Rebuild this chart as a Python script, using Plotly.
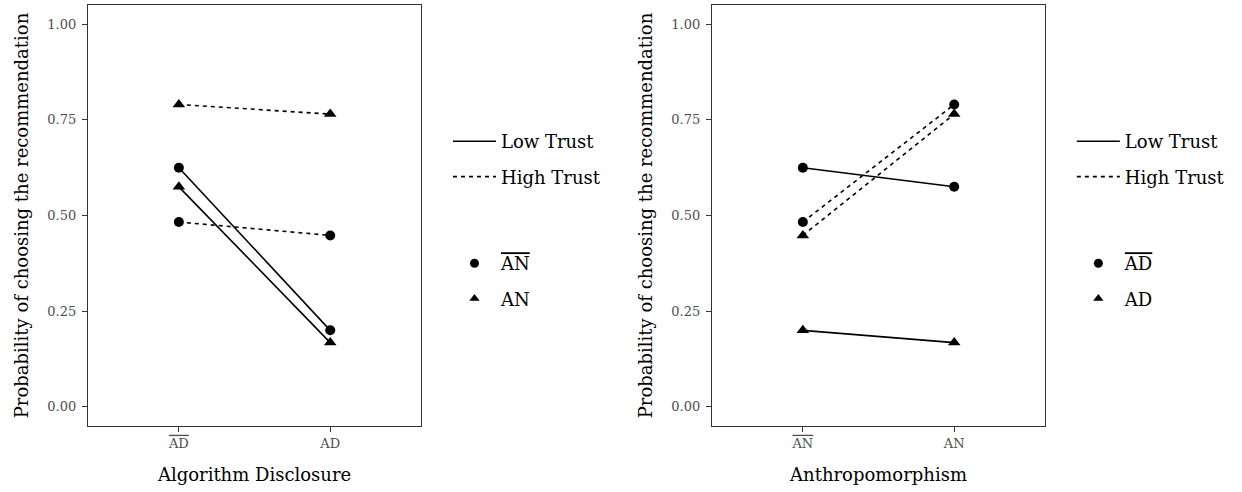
import plotly.graph_objects as go

# ---- data ----
trust_levels = ["Low Trust", "High Trust"]
ad_categories = ["ADbar", "AD"]          # Algorithm Disclosure levels
an_categories = ["ANbar", "AN"]          # Anthropomorphism levels
ad_ticktext = ['<span style="text-decoration:overline">AD</span>', "AD"]
an_ticktext = ['<span style="text-decoration:overline">AN</span>', "AN"]

# probabilities indexed over Algorithm Disclosure [ADbar, AD]
low_trust_anbar = [0.625, 0.200]
low_trust_an = [0.575, 0.168]
high_trust_anbar = [0.483, 0.448]
high_trust_an = [0.790, 0.765]

FONT = "DejaVu Serif"
dash_map = {"Low Trust": "solid", "High Trust": "4px,4px"}

series = {
    ("Low Trust", "ANbar"): low_trust_anbar,
    ("Low Trust", "AN"): low_trust_an,
    ("High Trust", "ANbar"): high_trust_anbar,
    ("High Trust", "AN"): high_trust_an,
}
symbol_map = {0: "circle", 1: "triangle-up"}

fig = go.Figure()

# Left panel: x = Algorithm Disclosure, marker = Anthropomorphism
for trust in trust_levels:
    for j, an in enumerate(an_categories):
        vals = series[(trust, an)]
        fig.add_trace(go.Scatter(
            x=ad_categories, y=vals, mode="lines+markers",
            line=dict(color="black", width=1.6, dash=dash_map[trust]),
            marker=dict(symbol=symbol_map[j], size=10 if j == 0 else 11, color="black"),
            showlegend=False, xaxis="x", yaxis="y", cliponaxis=False,
        ))

# Right panel: x = Anthropomorphism, marker = Algorithm Disclosure
for trust in trust_levels:
    for i, ad in enumerate(ad_categories):
        vals = [series[(trust, an)][i] for an in an_categories]
        fig.add_trace(go.Scatter(
            x=an_categories, y=vals, mode="lines+markers",
            line=dict(color="black", width=1.6, dash=dash_map[trust]),
            marker=dict(symbol=symbol_map[i], size=10 if i == 0 else 11, color="black"),
            showlegend=False, xaxis="x2", yaxis="y2", cliponaxis=False,
        ))

# Legend entries
def legend_entries(lg_lines, lg_marks, mark_labels, xa, ya):
    for k, trust in enumerate(trust_levels):
        fig.add_trace(go.Scatter(
            x=[None], y=[None], mode="lines", name=trust,
            line=dict(color="black", width=1.6, dash=dash_map[trust]),
            legend=lg_lines, legendgroup=lg_lines + str(k), xaxis=xa, yaxis=ya,
        ))
    for k, lab in enumerate(mark_labels):
        fig.add_trace(go.Scatter(
            x=[None], y=[None], mode="markers", name=lab,
            marker=dict(symbol=symbol_map[k], size=9, color="black"),
            legend=lg_marks, legendgroup=lg_marks + str(k), xaxis=xa, yaxis=ya,
        ))

legend_entries("legend", "legend2", an_ticktext, "x", "y")
legend_entries("legend3", "legend4", ad_ticktext, "x2", "y2")

axis_line = dict(showline=True, mirror=True, linecolor="#333333", linewidth=1.3,
                 ticks="outside", ticklen=5, tickcolor="#333333", tickwidth=1,
                 showgrid=False, zeroline=False, automargin=False,
                 tickfont=dict(family=FONT, size=13, color="#4d4d4d"))

yax = dict(range=[-0.05, 1.05], tickvals=[0, 0.25, 0.5, 0.75, 1.0],
           ticktext=["0.00", "0.25", "0.50", "0.75", "1.00"],
           ticklabelstandoff=3,
           title=dict(text="Probability of choosing the recommendation",
                      font=dict(family=FONT, size=18, color="black"), standoff=14),
           domain=[0.1341, 0.9898], **axis_line)

leg_common = dict(font=dict(family=FONT, size=18, color="black"), bgcolor="rgba(0,0,0,0)",
                  traceorder="grouped", tracegroupgap=9, itemwidth=43,
                  xanchor="left", yanchor="top", itemsizing="trace")

fig.update_layout(
    width=1242, height=492,
    margin=dict(l=0, r=0, t=0, b=0),
    paper_bgcolor="white", plot_bgcolor="white",
    xaxis=dict(domain=[0.0709, 0.339], type="category", range=[-0.6, 1.6],
               tickvals=ad_categories, ticktext=ad_ticktext,
               title=dict(text="Algorithm Disclosure", font=dict(family=FONT, size=18, color="black"), standoff=18),
               anchor="y", **axis_line),
    yaxis=dict(anchor="x", **yax),
    xaxis2=dict(domain=[0.5733, 0.8414], type="category", range=[-0.6, 1.6],
                tickvals=an_categories, ticktext=an_ticktext,
                title=dict(text="Anthropomorphism", font=dict(family=FONT, size=18, color="black"), standoff=18),
                anchor="y2", **axis_line),
    yaxis2=dict(anchor="x2", **yax),
    legend=dict(x=0.3607, y=0.750, **leg_common),
    legend2=dict(x=0.3607, y=0.502, **leg_common),
    legend3=dict(x=0.863, y=0.750, **leg_common),
    legend4=dict(x=0.863, y=0.502, **leg_common),
)

fig.write_html("out.html", config={"displayModeBar": False},
               post_script="document.body.style.margin='0px';")
